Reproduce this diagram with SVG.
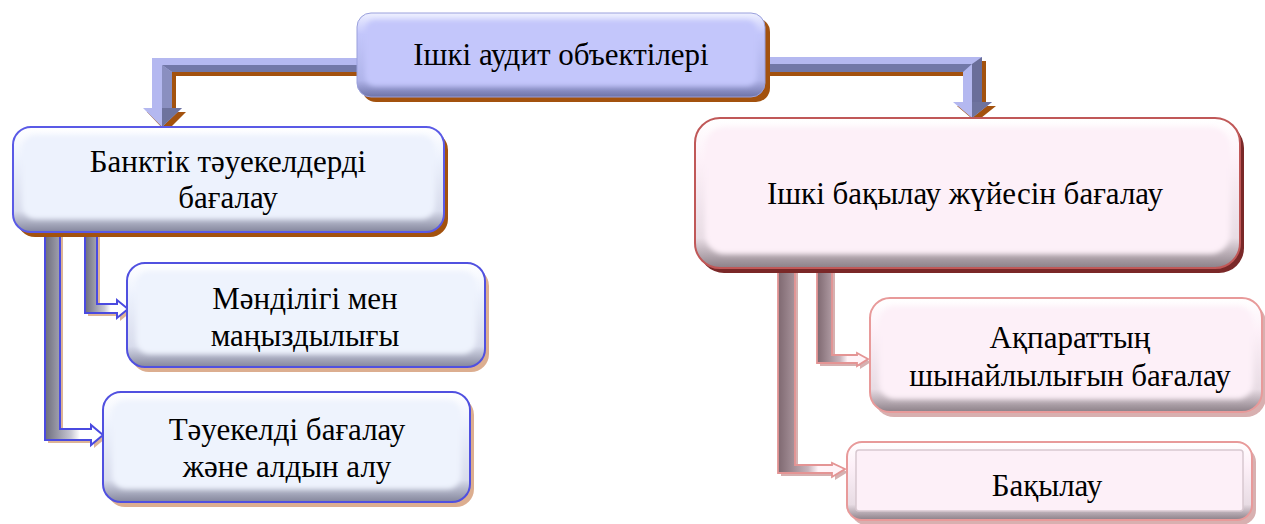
<svg xmlns="http://www.w3.org/2000/svg" width="1265" height="524" viewBox="0 0 1265 524">
  <defs>
    <filter id="soft" x="-5%" y="-10%" width="110%" height="120%">
      <feGaussianBlur stdDeviation="2.5"/>
    </filter>
    <!-- bevel gradients: light top rim, darker bottom rim -->
    <linearGradient id="bevBlueDark" x1="0" y1="0" x2="0" y2="1">
      <stop offset="0" stop-color="#eef0ff"/>
      <stop offset="0.25" stop-color="#c3c6fb"/>
      <stop offset="0.8" stop-color="#b0b4ea"/>
      <stop offset="1" stop-color="#6e73a8"/>
    </linearGradient>
    <linearGradient id="bevBlue" x1="0" y1="0" x2="0" y2="1">
      <stop offset="0" stop-color="#ffffff"/>
      <stop offset="0.3" stop-color="#edf2fd"/>
      <stop offset="0.8" stop-color="#d8dcec"/>
      <stop offset="1" stop-color="#84869c"/>
    </linearGradient>
    <linearGradient id="bevPink" x1="0" y1="0" x2="0" y2="1">
      <stop offset="0" stop-color="#ffffff"/>
      <stop offset="0.3" stop-color="#fdf0f8"/>
      <stop offset="0.8" stop-color="#e8dce4"/>
      <stop offset="1" stop-color="#8c8088"/>
    </linearGradient>
    <!-- side shading for the hollow elbow connectors -->
    <linearGradient id="barBlueV" x1="0" y1="0" x2="1" y2="0">
      <stop offset="0" stop-color="#6c6c7c"/>
      <stop offset="0.45" stop-color="#c8c8d4"/>
      <stop offset="0.6" stop-color="#ffffff"/>
      <stop offset="1" stop-color="#ffffff"/>
    </linearGradient>
    <linearGradient id="barPinkV" x1="0" y1="0" x2="1" y2="0">
      <stop offset="0" stop-color="#7e6870"/>
      <stop offset="0.45" stop-color="#c8b4bc"/>
      <stop offset="0.6" stop-color="#fff4f8"/>
      <stop offset="1" stop-color="#fff4f8"/>
    </linearGradient>
  </defs>

  <!-- connectors -->
  <g id="connectors">
    <!-- top: left elbow arrow -->
    <g id="c-top-left">
      <path d="M357,62 L156,62 L156,112 L147,112 L166,132 L186,112 L176,112 L176,76 L357,76 Z" fill="#a3520e"/>
      <path d="M357,58 L152,58 L152,108 L143,108 L162,127 L182,108 L172,108 L172,72 L357,72 Z" fill="#b4b8f0"/>
      <path d="M357,65 L162,65 L172,72 L357,72 Z" fill="#7278a8"/>
      <path d="M162,65 L162,108 L172,108 L172,72 Z" fill="#8a8fc0"/>
      <path d="M162,108 L182,108 L162,127 Z" fill="#6e739e"/>
    </g>
    <!-- top: right elbow arrow -->
    <g id="c-top-right">
      <path d="M765,61 L986,61 L986,106 L996,106 L976,122 L957,106 L967,106 L967,76 L765,76 Z" fill="#a3520e"/>
      <path d="M765,57 L982,57 L982,102 L992,102 L972,118 L953,102 L963,102 L963,72 L765,72 Z" fill="#b4b8f0"/>
      <path d="M765,64 L972,64 L963,72 L765,72 Z" fill="#7278a8"/>
      <path d="M972,64 L982,57 L982,102 L972,102 Z" fill="#6a6e9a"/>
      <path d="M972,102 L992,102 L972,118 Z" fill="#6e739e"/>
    </g>

    <!-- left branch: to "Мәнділігі мен маңыздылығы" -->
    <g id="c-left-1">
      <path d="M88,236 L100,236 L100,307 L120,307 L120,303 L131,312 L120,321 L120,316 L88,316 Z" fill="#ddb496"/>
      <path d="M85,233 L97,233 L97,304 L117,304 L117,300 L128,309 L117,318 L117,313 L85,313 Z" fill="url(#barBlueV)" stroke="#4a4ae0" stroke-width="2"/>
    </g>
    <!-- left branch: to "Тәуекелді бағалау және алдын алу" -->
    <g id="c-left-2">
      <path d="M48,236 L63,236 L63,432 L94,432 L94,428 L106,438 L94,448 L94,443 L48,443 Z" fill="#ddb496"/>
      <path d="M45,233 L60,233 L60,429 L91,429 L91,425 L103,435 L91,445 L91,440 L45,440 Z" fill="url(#barBlueV)" stroke="#4a4ae0" stroke-width="2"/>
    </g>

    <!-- right branch: to "Ақпараттың шынайлылығын бағалау" -->
    <g id="c-right-1">
      <path d="M820,271 L835,271 L835,358 L860,358 L860,356 L871,362 L860,369 L860,366 L820,366 Z" fill="#d6b0b0"/>
      <path d="M817,268 L832,268 L832,355 L857,355 L857,353 L868,359 L857,366 L857,363 L817,363 Z" fill="url(#barPinkV)" stroke="#e49494" stroke-width="1.8"/>
    </g>
    <!-- right branch: to "Бақылау" -->
    <g id="c-right-2">
      <path d="M781,271 L798,271 L798,468 L835,468 L835,466 L848,472 L835,480 L835,476 L781,476 Z" fill="#d6b0b0"/>
      <path d="M778,268 L795,268 L795,465 L832,465 L832,463 L845,469 L832,477 L832,473 L778,473 Z" fill="url(#barPinkV)" stroke="#e49494" stroke-width="1.8"/>
    </g>
  </g>

  <!-- root node -->
  <g id="n-root">
    <rect x="362" y="18" width="408" height="84" rx="14" fill="#a3520e"/>
    <rect x="357" y="13" width="408" height="84" rx="14" fill="url(#bevBlueDark)" stroke="#9aa0dc" stroke-width="1"/>
    <rect x="365" y="20" width="392" height="66" rx="10" fill="#c3c6fb" filter="url(#soft)"/>
    <text x="561" y="65" font-family="Liberation Serif" font-size="31" text-anchor="middle">Ішкі аудит объектілері</text>
  </g>

  <!-- left branch nodes -->
  <g id="n-bank-risk">
    <rect x="17" y="132" width="431" height="105" rx="18" fill="#a3520e"/>
    <rect x="13" y="127" width="431" height="105" rx="18" fill="url(#bevBlue)" stroke="#5a5ae6" stroke-width="2"/>
    <rect x="22" y="135" width="413" height="84" rx="14" fill="#edf2fd" filter="url(#soft)"/>
    <text x="228" y="172" font-family="Liberation Serif" font-size="31" text-anchor="middle">Банктік тәуекелдерді</text>
    <text x="228" y="208" font-family="Liberation Serif" font-size="31" text-anchor="middle">бағалау</text>
  </g>

  <g id="n-materiality">
    <rect x="131" y="268" width="358" height="104" rx="18" fill="#dcae90"/>
    <rect x="127" y="263" width="358" height="104" rx="18" fill="url(#bevBlue)" stroke="#5050e0" stroke-width="2"/>
    <rect x="136" y="271" width="340" height="83" rx="14" fill="#eef3fd" filter="url(#soft)"/>
    <text x="305" y="309" font-family="Liberation Serif" font-size="31" text-anchor="middle">Мәнділігі мен</text>
    <text x="305" y="346" font-family="Liberation Serif" font-size="31" text-anchor="middle">маңыздылығы</text>
  </g>

  <g id="n-risk-prevent">
    <rect x="107" y="397" width="367" height="110" rx="18" fill="#dcae90"/>
    <rect x="103" y="392" width="367" height="110" rx="18" fill="url(#bevBlue)" stroke="#5050e0" stroke-width="2"/>
    <rect x="112" y="400" width="349" height="89" rx="14" fill="#eef3fd" filter="url(#soft)"/>
    <text x="287" y="440" font-family="Liberation Serif" font-size="31" text-anchor="middle">Тәуекелді бағалау</text>
    <text x="287" y="477" font-family="Liberation Serif" font-size="31" text-anchor="middle">және алдын алу</text>
  </g>

  <!-- right branch nodes -->
  <g id="n-control-system">
    <rect x="699" y="123" width="545" height="150" rx="25" fill="#7a2828"/>
    <rect x="695" y="118" width="545" height="150" rx="25" fill="url(#bevPink)" stroke="#c05858" stroke-width="2"/>
    <rect x="705" y="127" width="525" height="127" rx="20" fill="#fdf0f8" filter="url(#soft)"/>
    <text x="965" y="204" font-family="Liberation Serif" font-size="31" text-anchor="middle">Ішкі бақылау жүйесін бағалау</text>
  </g>

  <g id="n-info-reliability">
    <rect x="874" y="303" width="392" height="114" rx="20" fill="#d8b0b0"/>
    <rect x="870" y="298" width="392" height="114" rx="20" fill="url(#bevPink)" stroke="#e89a9a" stroke-width="2"/>
    <rect x="879" y="306" width="374" height="93" rx="16" fill="#fdf0f8" filter="url(#soft)"/>
    <text x="1070" y="348" font-family="Liberation Serif" font-size="31" text-anchor="middle">Ақпараттың</text>
    <text x="1070" y="386" font-family="Liberation Serif" font-size="31" text-anchor="middle">шынайлылығын бағалау</text>
  </g>

  <g id="n-monitoring">
    <rect x="851" y="447" width="405" height="78" rx="15" fill="#d8b0b0"/>
    <rect x="847" y="442" width="405" height="78" rx="15" fill="url(#bevPink)" stroke="#e89a9a" stroke-width="2"/>
    <rect x="856" y="450" width="387" height="61" rx="3" fill="#fdf0f8" stroke="#d8c8d0" stroke-width="1.5"/>
    <text x="1047" y="496" font-family="Liberation Serif" font-size="31" text-anchor="middle">Бақылау</text>
  </g>
</svg>
